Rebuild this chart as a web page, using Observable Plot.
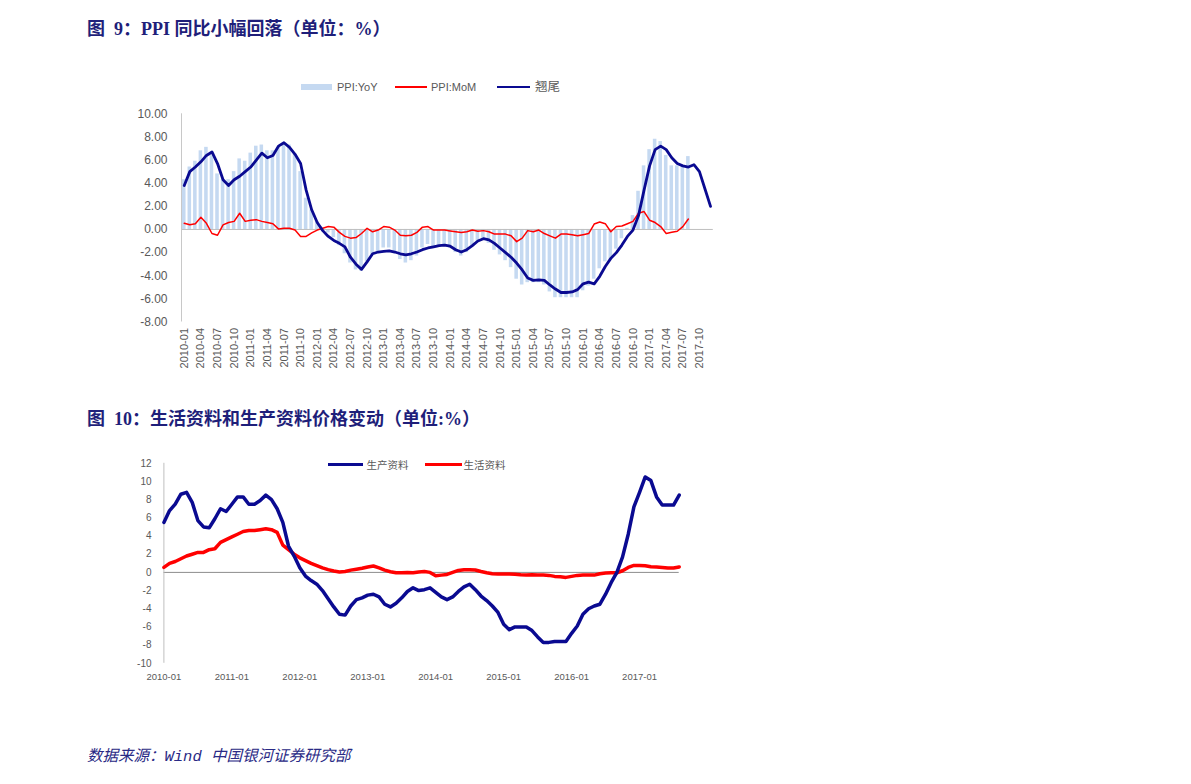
<!DOCTYPE html>
<html><head><meta charset="utf-8">
<script src="https://cdn.jsdelivr.net/npm/d3@7"></script>
<script src="https://cdn.jsdelivr.net/npm/@observablehq/plot@0.6"></script>
<style>
html,body{margin:0;padding:0;background:#fff;}
#page{position:relative;width:1191px;height:784px;overflow:hidden;background:#fff;}
.abs{position:absolute;white-space:nowrap;}
.title{font-family:"Liberation Serif","Noto Sans CJK SC",serif;font-weight:bold;font-size:18px;color:#1F1F7A;line-height:20px;}
.cap{font-family:"Liberation Mono","Noto Sans CJK SC",monospace;font-style:italic;font-size:15.5px;color:#2A2A85;line-height:20px;}
.leg{font-family:"Liberation Sans","Noto Sans CJK SC",sans-serif;font-size:11px;color:#595959;line-height:12px;}
.sw{position:absolute;}
</style></head><body><div id="page">
<div class="abs title" style="left:87px;top:19.3px;">图&ensp;9：PPI 同比小幅回落（单位：%）</div>
<div class="abs title" style="left:87px;top:408.5px;">图&ensp;10：生活资料和生产资料价格变动（单位:%）</div>
<div class="abs cap" style="left:87px;top:747px;">数据来源：Wind 中国银河证券研究部</div>

<div class="sw" style="left:301px;top:84px;width:31px;height:6px;background:#C5D9F1;"></div>
<div class="abs leg" style="left:337px;top:81px;">PPI:YoY</div>
<div class="sw" style="left:395px;top:86.3px;width:32px;height:1.5px;background:#FF0000;"></div>
<div class="abs leg" style="left:431px;top:81px;">PPI:MoM</div>
<div class="sw" style="left:497px;top:85.8px;width:33px;height:2.6px;background:#0A0A91;"></div>
<div class="abs leg" style="left:535px;top:80.5px;font-size:12.5px;line-height:13px;">翘尾</div>

<div class="sw" style="left:328px;top:462.6px;width:35px;height:3.5px;background:#0A0A91;"></div>
<div class="abs leg" style="left:366.5px;top:458.5px;font-size:10.5px;">生产资料</div>
<div class="sw" style="left:425px;top:462.6px;width:37px;height:3.5px;background:#FF0000;"></div>
<div class="abs leg" style="left:463.5px;top:458.5px;font-size:10.5px;">生活资料</div>

<div id="c1" class="abs" style="left:0;top:100px;"></div>
<div id="c2" class="abs" style="left:0;top:440px;"></div>
</div>
<script>
// ---- Chart 1: PPI (monthly, 2010-01 .. 2017-12) ----
const months1 = d3.utcMonth.range(new Date(Date.UTC(2010,0,1)), new Date(Date.UTC(2018,0,1))).map(d3.utcFormat("%Y-%m"));
const ppiYoY = [
  4.3, 5.4, 5.9, 6.8, 7.1, 6.4, 4.8, 4.3, 4.3, 5.0, 6.1, 5.9,
  6.6, 7.2, 7.3, 6.8, 6.8, 7.1, 7.5, 7.3, 6.5, 5.0, 2.7, 1.7,
  0.7, 0.0, -0.3, -0.7, -1.4, -2.1, -2.9, -3.5, -3.6, -2.8, -2.2, -1.9,
  -1.6, -1.6, -1.9, -2.6, -2.9, -2.7, -2.3, -1.6, -1.3, -1.5, -1.4, -1.4,
  -1.6, -2.0, -2.3, -2.0, -1.4, -1.1, -0.9, -1.2, -1.8, -2.2, -2.7, -3.3,
  -4.3, -4.8, -4.6, -4.6, -4.6, -4.8, -5.4, -5.9, -5.9, -5.9, -5.9, -5.9,
  -5.3, -4.9, -4.3, -3.4, -2.8, -2.6, -1.7, -0.8, 0.1, 1.2, 3.3, 5.5,
  6.9, 7.8, 7.6, 6.4, 5.5, 5.5, 5.5, 6.3
];
const ppiMoM = [
  0.53, 0.4, 0.5, 1.05, 0.53, -0.35, -0.5, 0.4, 0.6, 0.7, 1.4, 0.7,
  0.8, 0.85, 0.7, 0.6, 0.5, 0.05, 0.1, 0.1, -0.05, -0.6, -0.6, -0.3,
  -0.05, 0.1, 0.25, 0.2, -0.25, -0.6, -0.75, -0.7, -0.35, 0.1, -0.2, -0.05,
  0.25, 0.2, -0.05, -0.5, -0.55, -0.5, -0.25, 0.2, 0.25, -0.05, -0.05, -0.05,
  -0.13, -0.2, -0.27, -0.2, -0.05, -0.15, -0.1, -0.2, -0.4, -0.4, -0.4, -0.55,
  -1.05, -0.75, -0.1, -0.2, -0.05, -0.35, -0.55, -0.75, -0.4, -0.4, -0.45, -0.55,
  -0.45, -0.35, 0.47, 0.65, 0.5, -0.2, 0.25, 0.3, 0.5, 0.7, 1.4, 1.55,
  0.8, 0.6, 0.25, -0.35, -0.25, -0.15, 0.25, 0.9
];
const carryover = [
  3.8, 5.0, 5.4, 5.85, 6.4, 6.7, 5.7, 4.3, 3.8, 4.3, 4.6, 5.0,
  5.4, 6.0, 6.6, 6.2, 6.4, 7.2, 7.5, 7.1, 6.5, 5.7, 3.4, 1.7,
  0.6, -0.1, -0.6, -0.95, -1.2, -1.5, -2.4, -3.0, -3.45, -2.8, -2.1, -1.95,
  -1.9, -1.85, -1.95, -2.1, -2.2, -2.1, -1.95, -1.75, -1.6, -1.5, -1.4, -1.35,
  -1.45, -1.75, -1.95, -1.75, -1.4, -1.0, -0.8, -0.9, -1.2, -1.6, -2.0, -2.4,
  -2.9, -3.5, -4.2, -4.4, -4.35, -4.4, -4.8, -5.15, -5.45, -5.45, -5.4, -5.2,
  -4.7, -4.55, -4.7, -4.05, -3.2, -2.5, -2.0, -1.35, -0.6, -0.05, 1.2, 3.4,
  5.5, 6.9, 7.2, 6.9, 6.2, 5.7, 5.5, 5.4, 5.6, 5.0, 3.5, 2.0
];
const yTicks1 = [-8, -6, -4, -2, 0, 2, 4, 6, 8, 10];

// ---- Chart 2: producer vs consumer goods PPI (monthly, 2010-01 .. 2017-08) ----
const months2 = months1.slice(0, 92);
const producerGoods = [
  5.5, 6.8, 7.5, 8.6, 8.8, 7.7, 5.7, 5.0, 4.9, 5.9, 7.0, 6.7,
  7.5, 8.3, 8.3, 7.5, 7.5, 7.9, 8.5, 8.0, 7.0, 5.5, 2.9, 1.8,
  0.5, -0.4, -0.9, -1.3, -2.0, -2.9, -3.8, -4.6, -4.7, -3.7, -3.0, -2.8,
  -2.5, -2.4, -2.7, -3.5, -3.8, -3.4, -2.8, -2.1, -1.7, -2.0, -1.9, -1.7,
  -2.2, -2.7, -3.0, -2.7, -2.1, -1.6, -1.3, -1.9, -2.6, -3.1, -3.7, -4.4,
  -5.7, -6.3, -6.0, -6.0, -6.0, -6.4, -7.1, -7.7, -7.7, -7.6, -7.6, -7.6,
  -6.7, -5.9, -4.6, -4.0, -3.7, -3.5, -2.4, -1.1, 0.0, 1.7, 4.2, 7.2,
  8.8, 10.5, 10.1, 8.3, 7.4, 7.4, 7.4, 8.5
];
const consumerGoods = [
  0.55, 1.0, 1.2, 1.5, 1.8, 2.0, 2.2, 2.2, 2.5, 2.6, 3.3, 3.6,
  3.9, 4.2, 4.5, 4.6, 4.6, 4.7, 4.8, 4.7, 4.4, 3.0, 2.5, 2.0,
  1.6, 1.3, 1.0, 0.75, 0.5, 0.3, 0.15, 0.05, 0.1, 0.25, 0.35, 0.45,
  0.6, 0.7, 0.5, 0.25, 0.07, -0.04, -0.04, 0.0, -0.04, 0.05, 0.1, 0.0,
  -0.37, -0.3, -0.22, 0.0, 0.22, 0.3, 0.3, 0.26, 0.1, -0.04, -0.15, -0.18,
  -0.18, -0.18, -0.2, -0.26, -0.3, -0.26, -0.3, -0.3, -0.33, -0.44, -0.48, -0.55,
  -0.44, -0.33, -0.3, -0.3, -0.3, -0.15, -0.07, -0.04, -0.04, 0.18, 0.55, 0.77,
  0.77, 0.74, 0.63, 0.6, 0.55, 0.48, 0.48, 0.6
];
const yTicks2 = [-10, -8, -6, -4, -2, 0, 2, 4, 6, 8, 10, 12];

// ---- build ----
const yoyData = ppiYoY.map((v, i) => ({i, v}));
const momData = ppiMoM.map((v, i) => ({i, v}));
const tailData = carryover.map((v, i) => ({i, v}));
const xDom1 = [-0.5, months1.length - 0.5];
const xTicks1 = months1.map((m, i) => i).filter(i => i % 3 === 0);

const chart1 = Plot.plot({
  width: 1191, height: 302,
  marginTop: 13.3, marginBottom: 80.5, marginLeft: 181, marginRight: 478.2,
  style: {fontFamily: "Liberation Sans, Arial, sans-serif", fontSize: "12px", color: "#595959", background: "transparent", overflow: "visible"},
  x: {domain: xDom1, label: null},
  y: {domain: [yTicks1[0], yTicks1[yTicks1.length - 1]], label: null},
  marks: [
    Plot.rect(yoyData, {x1: d => d.i - 0.32, x2: d => d.i + 0.32, y1: d => 0, y2: "v", fill: "#C5D9F1"}),
    Plot.ruleY([0], {stroke: "#BFBFBF", strokeWidth: 1}),
    Plot.ruleX([xDom1[0]], {stroke: "#C8C8C8", strokeWidth: 1}),
    Plot.lineY(momData, {x: "i", y: "v", stroke: "#FF0000", strokeWidth: 1.5}),
    Plot.lineY(tailData, {x: "i", y: "v", stroke: "#0A0A91", strokeWidth: 2.8}),
    Plot.axisY({ticks: yTicks1, tickSize: 0, tickPadding: 14, tickFormat: d => d.toFixed(2), fontSize: 12}),
    Plot.axisX({ticks: xTicks1, tickSize: 0, tickPadding: 6, tickRotate: -90, tickFormat: i => months1[i], fontSize: 11})
  ]
});
document.getElementById("c1").appendChild(chart1);

const prodData = producerGoods.map((v, i) => ({i, v}));
const consData = consumerGoods.map((v, i) => ({i, v}));
const xTicks2 = months2.map((m, i) => i).filter(i => months2[i].endsWith("-01"));
const chart2 = Plot.plot({
  width: 1191, height: 253,
  marginTop: 22.8, marginBottom: 30.2, marginLeft: 163.4, marginRight: 512.3,
  style: {fontFamily: "Liberation Sans, Arial, sans-serif", fontSize: "10px", color: "#595959", background: "transparent", overflow: "visible"},
  x: {domain: [0, months2.length - 1], label: null},
  y: {domain: [yTicks2[0], yTicks2[yTicks2.length - 1]], label: null},
  marks: [
    Plot.ruleY([0], {stroke: "#8C8C8C", strokeWidth: 1}),
    Plot.ruleX([0], {stroke: "#BFBFBF", strokeWidth: 1}),
    Plot.lineY(consData, {x: "i", y: "v", stroke: "#FF0000", strokeWidth: 3.5}),
    Plot.lineY(prodData, {x: "i", y: "v", stroke: "#0A0A91", strokeWidth: 3.5}),
    Plot.axisY({ticks: yTicks2, tickSize: 0, tickPadding: 12.4, tickFormat: d => String(d), fontSize: 10}),
    Plot.axisX({ticks: xTicks2, tickSize: 0, tickPadding: 9.5, tickFormat: i => months2[i], fontSize: 9.5})
  ]
});
document.getElementById("c2").appendChild(chart2);
</script>
</body></html>
